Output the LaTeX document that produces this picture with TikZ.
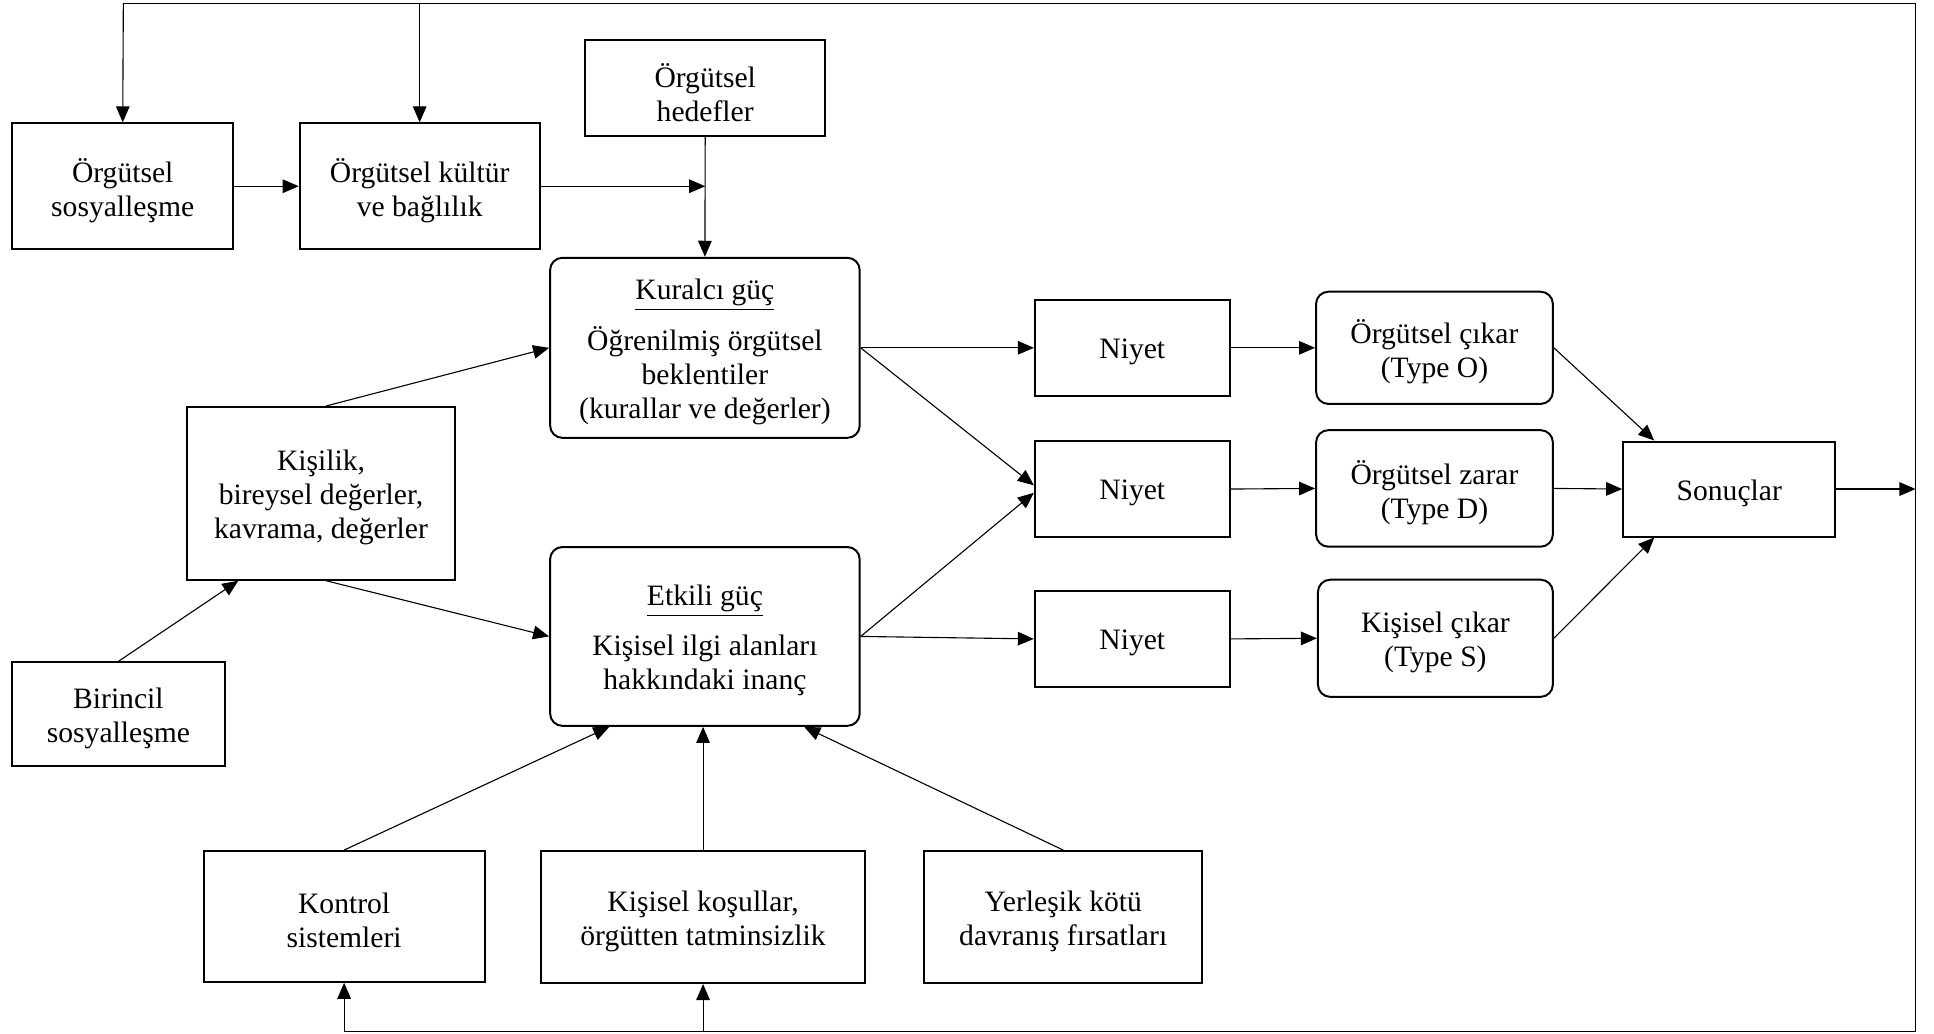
\documentclass[tikz,border=0pt]{standalone}
\usepackage{fontspec}
\setmainfont{Liberation Serif}
\usetikzlibrary{arrows.meta}
\begin{document}
\begin{tikzpicture}[x=0.5pt,y=-0.5pt,
  txt/.style={align=center, inner sep=0pt,
    font=\fontsize{12pt}{13.8pt}\selectfont},
  box/.style={draw, line width=0.8pt, inner sep=0pt,
    label={[txt, yshift=-1.75pt]center:{#1}}},
  rbox/.style={box={#1}, rounded corners=5pt},
  arr/.style={line width=0.45pt, -{Triangle[length=6.5pt,width=5.5pt]}},
  ln/.style={line width=0.45pt}]
\useasboundingbox (0,0) rectangle (1568,838);

% upper-left inputs
\node[box={Örgütsel\\sosyalleşme}, minimum width=89.5pt, minimum height=51pt] (soc) at (99.5,151) {};
\node[box={Örgütsel kültür\\ve bağlılık}, minimum width=97.25pt, minimum height=51pt] (cult) at (340.25,151) {};
\node[box={Örgütsel\\hedefler}, minimum width=97.25pt, minimum height=38.75pt] (goals) at (571.75,71.25) {};

% the two forces
\node[rbox={\underline{Kuralcı güç}\\[5.5pt]Öğrenilmiş örgütsel\\beklentiler\\(kurallar ve değerler)},
  minimum width=125.5pt, minimum height=73pt] (norm) at (571.5,282) {};
\node[rbox={\underline{Etkili güç}\\[6.5pt]Kişisel ilgi alanları\\hakkındaki inanç},
  minimum width=125.5pt, minimum height=72.5pt] (aff) at (571.5,516) {};

% individual side
\node[box={Kişilik,\\bireysel değerler,\\kavrama, değerler},
  minimum width=108.25pt, minimum height=70pt] (pers) at (260.25,400) {};
\node[box={Birincil\\sosyalleşme}, minimum width=86.5pt, minimum height=42pt] (prim) at (96,579) {};

% intentions
\node[box={Niyet}, minimum width=79pt, minimum height=39pt] (int1) at (918,282) {};
\node[box={Niyet}, minimum width=79pt, minimum height=39pt] (int2) at (918,396.5) {};
\node[box={Niyet}, minimum width=79pt, minimum height=39pt] (int3) at (918,518) {};

% behaviour types
\node[rbox={Örgütsel çıkar\\(Type O)}, minimum width=96pt, minimum height=45.5pt] (typeO) at (1163,282) {};
\node[rbox={Örgütsel zarar\\(Type D)}, minimum width=96pt, minimum height=47.25pt] (typeD) at (1163,396) {};
\node[rbox={Kişisel çıkar\\(Type S)}, minimum width=95.25pt, minimum height=47.5pt] (typeS) at (1163.75,517.5) {};

\node[box={Sonuçlar}, minimum width=86pt, minimum height=38.5pt] (res) at (1402,396.5) {};

% lower inputs
\node[box={Kontrol\\sistemleri}, minimum width=114pt, minimum height=53pt] (ctrl) at (279,743) {};
\node[box={Kişisel koşullar,\\örgütten tatminsizlik}, minimum width=131pt, minimum height=53.5pt] (cond) at (570,743.5) {};
\node[box={Yerleşik kötü\\davranış fırsatları}, minimum width=112.5pt, minimum height=53.5pt] (opp) at (862,743.5) {};

% feedback frame
\coordinate (fbTL) at (100,2.5);
\coordinate (fbTM) at (340.25,2.5);
\coordinate (fbTR) at (1553,2.5);
\coordinate (fbBR) at (1553,836.5);
\coordinate (fbBM) at (570,836.5);
\coordinate (fbBL) at (279,836.5);
\coordinate (outEnd) at (1553,396.5);
\coordinate (join) at (goals.south |- cult.east);

\draw[ln] (fbBL) -- (fbBR) -- (fbTR) -- (fbTL);
\draw[arr] (fbTL) -- (soc.north);
\draw[arr] (fbTM) -- (cult.north);
\draw[arr] (fbBL) -- (ctrl.south);
\draw[arr] (fbBM) -- (cond.south);

% top inputs
\draw[arr] (soc.east) -- (cult.west);
\draw[arr] (cult.east) -- (join);
\draw[arr] (goals.south) -- (norm.north);

% individual side
\draw[arr] (prim.north) -- ([xshift=-33.5pt]pers.south);
\draw[arr] ([xshift=2pt]pers.north) -- (norm.west);
\draw[arr] ([xshift=2pt]pers.south) -- (aff.west);

% forces to intentions
\draw[arr] (norm.east) -- (int1.west);
\draw[arr] (norm.east) -- ([yshift=1.5pt]int2.west);
\draw[arr] (aff.east) -- ([yshift=-1.5pt]int2.west);
\draw[arr] (aff.east) -- (int3.west);

% intentions to behaviour
\draw[arr] (int1.east) -- (typeO.west);
\draw[arr] (int2.east) -- (typeD.west);
\draw[arr] (int3.east) -- (typeS.west);

% behaviour to outcomes
\draw[arr] (typeO.east) -- ([xshift=13pt]res.north west);
\draw[arr] (typeD.east) -- (res.west);
\draw[arr] (typeS.east) -- ([xshift=13pt]res.south west);
\draw[arr] (res.east) -- (outEnd);

% lower inputs to the affective force
\draw[arr] (ctrl.north) -- ([xshift=-38.75pt]aff.south);
\draw[arr] (cond.north) -- (cond.north |- aff.south);
\draw[arr] (opp.north) -- ([xshift=40.25pt]aff.south);
\end{tikzpicture}
\end{document}
